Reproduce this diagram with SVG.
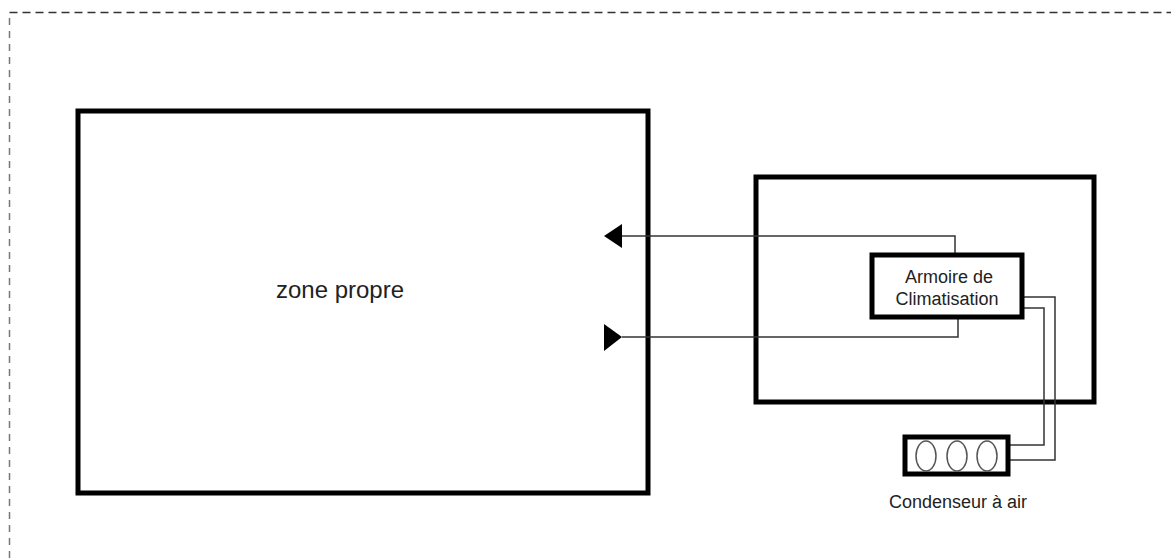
<svg xmlns="http://www.w3.org/2000/svg" width="1171" height="558" viewBox="0 0 1171 558">
<style>
.box{fill:#fff;stroke:#000;stroke-width:5}
.pipe{fill:none;stroke:#333;stroke-width:1.5}
.txt{font-family:"Liberation Sans",Arial,sans-serif;fill:#222;text-anchor:middle}
</style>
<rect width="1171" height="558" fill="#fff"/>
<path d="M9.5,558 V12.5" fill="none" stroke="#777" stroke-width="1.5" stroke-dasharray="7,6"/>
<path d="M9.5,12.5 H1171" fill="none" stroke="#333" stroke-width="1.5" stroke-dasharray="8,5"/>
<g id="zone-propre">
<rect class="box" x="78" y="111" width="570" height="382"/>
<text class="txt" x="340" y="298" font-size="24">zone propre</text>
</g>
<g id="local-technique">
<rect class="box" x="756" y="177" width="338" height="225"/>
</g>
<g id="connectors">
<polyline class="pipe" points="622,236 955,236 955,255"/>
<polygon points="604,236 622,224 622,248" fill="#000"/>
<polyline class="pipe" points="622,337 958,337 958,317"/>
<polygon points="622,337 604,324 604,351" fill="#000"/>
<polyline class="pipe" points="1024,297 1055,297 1055,460 1010,460"/>
<polyline class="pipe" points="1024,308 1044,308 1044,445 1010,445"/>
</g>
<g id="armoire">
<rect class="box" x="872" y="255" width="150" height="62"/>
<text class="txt" x="949" y="283" font-size="18">Armoire de</text>
<text class="txt" x="947" y="305" font-size="18">Climatisation</text>
</g>
<g id="condenseur">
<rect class="box" x="905" y="437" width="103" height="37"/>
<g fill="none" stroke="#555" stroke-width="1.5">
<ellipse cx="926" cy="456" rx="10" ry="15"/>
<ellipse cx="957" cy="456" rx="10" ry="15"/>
<ellipse cx="987" cy="456" rx="10" ry="15"/>
</g>
<text class="txt" x="958" y="508" font-size="18">Condenseur à air</text>
</g>
</svg>
